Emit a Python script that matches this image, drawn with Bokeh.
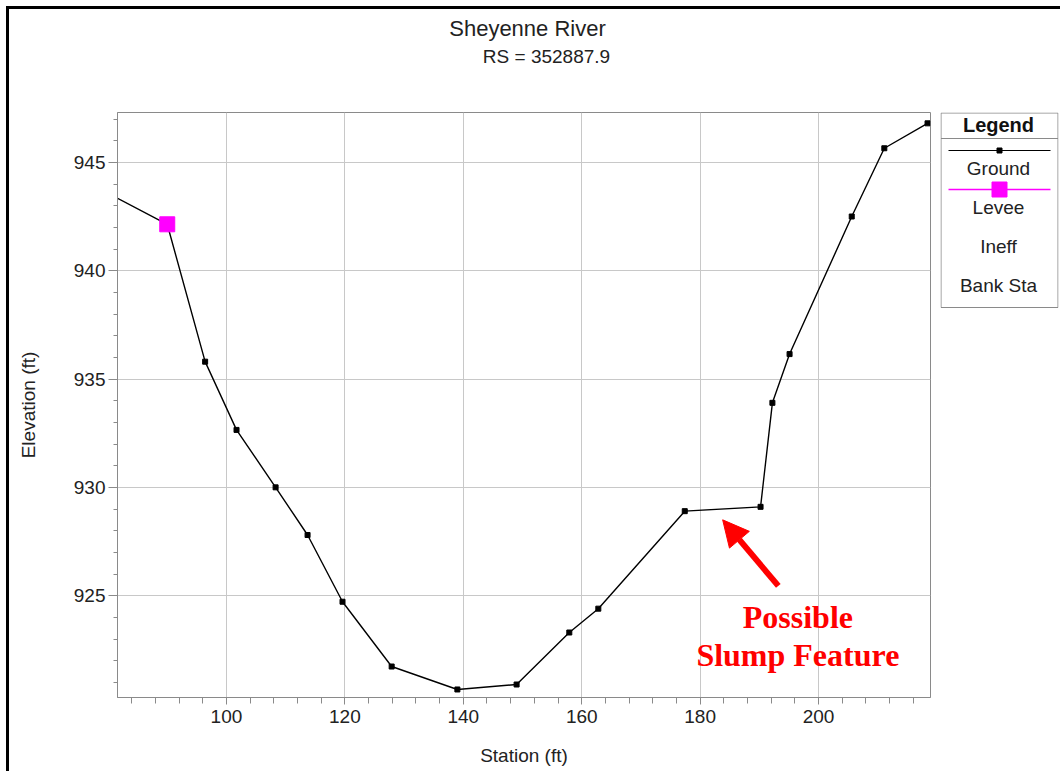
from bokeh.plotting import figure
from bokeh.models import (Range1d, SingleIntervalTicker, Arrow, NormalHead,
                          ColumnDataSource)
from bokeh.layouts import row, column
from bokeh.core.properties import value
from bokeh.embed import file_html
from bokeh.resources import INLINE

# ---------------- data ----------------
station = [80.0, 90.0, 96.4, 101.7, 108.3, 113.7, 119.6, 127.9, 139.0, 149.0,
           157.9, 162.8, 177.4, 190.2, 192.2, 195.1, 205.6, 211.1, 218.4]
elevation = [943.57, 942.14, 935.8, 932.65, 930.0, 927.8, 924.72, 921.73, 920.67, 920.9,
             923.3, 924.4, 928.9, 929.1, 933.9, 936.15, 942.5, 945.65, 946.8]
levee_station = [90.0]
levee_elevation = [942.14]

title_main = "Sheyenne River"
title_sub = "RS = 352887.9"
legend_labels = ["Ground", "Levee", "Ineff", "Bank Sta"]
note_lines = ["Possible", "Slump Feature"]
note_x = [196.5, 196.5]
note_y = [924.0, 922.25]
arrow_tail = (193.2, 925.45)
arrow_tip = (183.8, 928.5)

FONT = "Liberation Sans"
GRAY = "#8a8a8a"
X0, X1, Y0, Y1 = 81.6, 218.9, 920.3, 947.3

# ---------------- title strip ----------------
tf = figure(width=1051, height=103, output_backend="svg", toolbar_location=None,
            x_range=Range1d(0, 1051), y_range=Range1d(103, 0),
            x_axis_type=None, y_axis_type=None,
            min_border_left=0, min_border_right=0, min_border_top=0,
            min_border_bottom=0)
tf.grid.visible = False
tf.outline_line_color = None
tf.text([518], [19], text=[title_main], text_font=value(FONT), text_font_size="22px",
        text_color="#222222", text_align="center", text_baseline="middle")
tf.text([537], [47], text=[title_sub], text_font=value(FONT), text_font_size="19px",
        text_color="#222222", text_align="center", text_baseline="middle")

# ---------------- main plot ----------------
p = figure(width=931, height=659, output_backend="svg", toolbar_location=None,
           x_range=Range1d(X0, X1), y_range=Range1d(Y0, Y1),
           min_border_left=108, min_border_right=10, min_border_top=0,
           min_border_bottom=74)
p.title = None

p.outline_line_color = GRAY
p.outline_line_width = 1
p.background_fill_color = "white"
p.border_fill_color = "white"

p.xaxis.ticker = SingleIntervalTicker(interval=20, num_minor_ticks=5)
p.yaxis.ticker = SingleIntervalTicker(interval=5, num_minor_ticks=5)
for ax in (p.xaxis[0], p.yaxis[0]):
    ax.axis_line_color = GRAY
    ax.major_tick_line_color = GRAY
    ax.minor_tick_line_color = GRAY
    ax.major_tick_in = 0
    ax.minor_tick_in = 0
    ax.major_label_text_font = FONT
    ax.major_label_text_font_size = "19px"
    ax.major_label_text_color = "#222222"
    ax.axis_label_text_font = FONT
    ax.axis_label_text_font_size = "19px"
    ax.axis_label_text_font_style = "normal"
    ax.axis_label_text_color = "#222222"
p.xaxis.axis_label = "Station (ft)"
p.yaxis.axis_label = "Elevation (ft)"
p.xaxis.major_tick_out = 7
p.xaxis.minor_tick_out = 6
p.yaxis.major_tick_out = 9
p.yaxis.minor_tick_out = 4
p.xaxis.major_label_standoff = 5
p.yaxis.major_label_standoff = 3
p.xaxis.axis_label_standoff = 19
p.yaxis.axis_label_standoff = 32

p.xgrid.ticker = p.xaxis.ticker
p.ygrid.ticker = p.yaxis.ticker
p.grid.grid_line_color = "#c8c8c8"
p.grid.grid_line_width = 1

src = ColumnDataSource(dict(x=station, y=elevation))
p.line("x", "y", source=src, line_color="black", line_width=1.4)
p.scatter("x", "y", source=src, marker="square", size=5, fill_color="black",
          line_color="black")
p.scatter(levee_station, levee_elevation, marker="square", size=15,
          fill_color="#ff00ff", line_color="#ff00ff")

p.add_layout(Arrow(end=NormalHead(size=26, fill_color="red", line_color="red"),
                   x_start=arrow_tail[0], y_start=arrow_tail[1],
                   x_end=arrow_tip[0], y_end=arrow_tip[1],
                   line_color="red", line_width=6))
p.text(note_x, note_y, text=note_lines, text_font=value("Liberation Serif"),
       text_font_style="bold", text_font_size="32px", text_color="red",
       text_align="center", text_baseline="middle")

# ---------------- legend panel (frame aligned with the main frame) ----------------
lg = figure(width=120, height=659, output_backend="svg", toolbar_location=None,
            x_range=Range1d(0, 118), y_range=Range1d(585, 0),
            x_axis_type=None, y_axis_type=None,
            min_border_left=0, min_border_right=2, min_border_top=0,
            min_border_bottom=74)
lg.grid.visible = False
lg.outline_line_color = None
lg.border_fill_color = "white"

lg.quad(left=[0.5], right=[117.5], top=[0.5], bottom=[195], fill_color=None,
        line_color=GRAY, line_width=1)
lg.text([58], [12], text=["Legend"], text_font=value(FONT), text_font_style="bold",
        text_font_size="20px", text_color="#111111", text_align="center",
        text_baseline="middle")
lg.segment([0.5], [26], [117.5], [26], line_color=GRAY, line_width=1)
lg.segment([8], [38], [110], [38], line_color="black", line_width=1.2)
lg.scatter([59], [38], marker="square", size=5, fill_color="black", line_color="black")
lg.segment([8], [77], [110], [77], line_color="#ff00ff", line_width=1.4)
lg.scatter([59], [77], marker="square", size=15, fill_color="#ff00ff",
           line_color="#ff00ff")
lg.text([58, 58, 58, 58], [56, 95, 134, 173], text=legend_labels,
        text_font=value(FONT), text_font_size="19px", text_color="#222222",
        text_align="center", text_baseline="middle")

layout = column(tf, row(p, lg), margin=(6, 0, 0, 6),
                styles={"border-left": "3px solid black", "border-top": "3px solid black"})

open("out.html", "w").write(file_html(layout, INLINE))
